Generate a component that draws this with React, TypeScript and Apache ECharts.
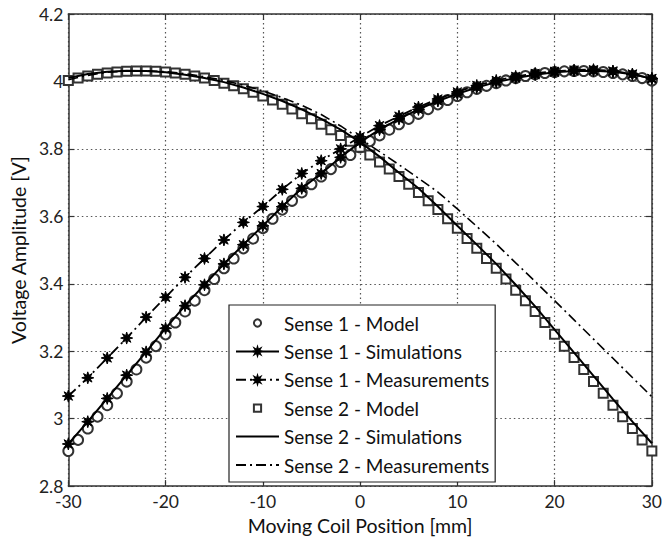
import React, { useEffect, useRef } from "react";
import * as echarts from "echarts";

const xModel = [-30, -29, -28, -27, -26, -25, -24, -23, -22, -21, -20, -19, -18, -17, -16, -15, -14, -13, -12, -11, -10, -9, -8, -7, -6, -5, -4, -3, -2, -1, 0, 1, 2, 3, 4, 5, 6, 7, 8, 9, 10, 11, 12, 13, 14, 15, 16, 17, 18, 19, 20, 21, 22, 23, 24, 25, 26, 27, 28, 29, 30];
const sense1Model = [2.904, 2.937, 2.971, 3.006, 3.040, 3.075, 3.110, 3.146, 3.181, 3.215, 3.250, 3.285, 3.318, 3.350, 3.381, 3.414, 3.446, 3.475, 3.505, 3.534, 3.565, 3.593, 3.620, 3.646, 3.671, 3.695, 3.718, 3.740, 3.761, 3.782, 3.805, 3.823, 3.840, 3.857, 3.873, 3.889, 3.904, 3.918, 3.932, 3.945, 3.957, 3.968, 3.978, 3.987, 3.995, 4.003, 4.010, 4.016, 4.021, 4.025, 4.028, 4.030, 4.031, 4.031, 4.030, 4.028, 4.025, 4.021, 4.016, 4.010, 4.003];
const sense2Model = [4.003, 4.010, 4.016, 4.021, 4.025, 4.028, 4.030, 4.031, 4.031, 4.030, 4.028, 4.025, 4.021, 4.016, 4.010, 4.003, 3.995, 3.987, 3.978, 3.968, 3.957, 3.945, 3.932, 3.918, 3.904, 3.889, 3.873, 3.857, 3.840, 3.823, 3.805, 3.782, 3.761, 3.740, 3.718, 3.695, 3.671, 3.646, 3.620, 3.593, 3.565, 3.534, 3.505, 3.475, 3.446, 3.414, 3.381, 3.350, 3.318, 3.285, 3.250, 3.215, 3.181, 3.146, 3.110, 3.075, 3.040, 3.006, 2.971, 2.937, 2.904];

const xSim = [-30, -28, -26, -24, -22, -20, -18, -16, -14, -12, -10, -8, -6, -4, -2, 0, 2, 4, 6, 8, 10, 12, 14, 16, 18, 20, 22, 24, 26, 28, 30];
const sense1Sim = [2.925, 2.991, 3.060, 3.129, 3.198, 3.268, 3.335, 3.397, 3.459, 3.516, 3.572, 3.629, 3.683, 3.727, 3.775, 3.820, 3.857, 3.889, 3.917, 3.942, 3.963, 3.982, 3.998, 4.010, 4.020, 4.027, 4.031, 4.032, 4.029, 4.021, 4.009];
const sense1Meas = [3.067, 3.121, 3.180, 3.239, 3.301, 3.360, 3.419, 3.475, 3.530, 3.582, 3.629, 3.680, 3.727, 3.765, 3.800, 3.836, 3.869, 3.897, 3.924, 3.948, 3.969, 3.988, 4.003, 4.015, 4.024, 4.030, 4.034, 4.035, 4.031, 4.022, 4.008];
const sense2Sim = [4.010, 4.022, 4.029, 4.032, 4.031, 4.027, 4.020, 4.010, 3.998, 3.982, 3.963, 3.942, 3.917, 3.889, 3.857, 3.820, 3.777, 3.729, 3.683, 3.629, 3.572, 3.516, 3.459, 3.397, 3.333, 3.264, 3.196, 3.127, 3.058, 2.991, 2.927];
const sense2Meas = [4.005, 4.018, 4.027, 4.031, 4.032, 4.029, 4.023, 4.014, 4.003, 3.989, 3.972, 3.952, 3.929, 3.902, 3.868, 3.830, 3.792, 3.753, 3.713, 3.672, 3.622, 3.570, 3.518, 3.462, 3.407, 3.350, 3.293, 3.236, 3.179, 3.122, 3.065];

const seriesNames = [
  "Sense 1 - Model",
  "Sense 1 - Simulations",
  "Sense 1 - Measurements",
  "Sense 2 - Model",
  "Sense 2 - Simulations",
  "Sense 2 - Measurements",
];

const xTicks = { min: -30, max: 30, interval: 10 };
const yTicks = { min: 2.8, max: 4.2, interval: 0.2 };

const FONT = "Lato";
const STAR =
  "path://M20 10L14.16 11.72L17.07 17.07L11.72 14.16L10 20L8.28 14.16L2.93 17.07L5.84 11.72L0 10L5.84 8.28L2.93 2.93L8.28 5.84L10 0L11.72 5.84L17.07 2.93L14.16 8.28Z";
const DASHDOT = [10, 4, 2, 4];

const pair = (xs: number[], ys: number[]) => xs.map((x, i) => [x, ys[i]]);

export default function App() {
  const ref = useRef<HTMLDivElement>(null);
  useEffect(() => {
    if (!ref.current) return;
    const chart = echarts.init(ref.current, undefined, { renderer: "svg" });
    const axisLine = { show: true, onZero: false, lineStyle: { color: "#333", width: 1.5 } };
    const tick = { show: true, inside: true, length: 6, lineStyle: { color: "#333", width: 1.2 } };
    const split = { show: true, lineStyle: { color: "#555", width: 1.2, type: [1.5, 3] } };
    chart.setOption({
      animation: false,
      backgroundColor: "#fff",
      grid: { left: 62.5, right: 7.5, top: 14, bottom: 52, containLabel: false },
      legend: {
        orient: "vertical",
        left: 229,
        top: 305,
        padding: [8, 6, 7, 6],
        itemWidth: 43,
        itemHeight: 9,
        itemGap: 8.4,
        backgroundColor: "#fff",
        borderColor: "#222",
        borderWidth: 1.2,
        borderRadius: 0,
        textStyle: { fontFamily: FONT, fontSize: 19, lineHeight: 20, color: "#111" },
        data: [
          { name: seriesNames[0] },
          { name: seriesNames[1] },
          { name: seriesNames[2] },
          { name: seriesNames[3] },
          { name: seriesNames[4], itemStyle: { opacity: 0 } },
          { name: seriesNames[5], itemStyle: { opacity: 0 } },
        ],
      },
      xAxis: [
        {
          type: "value",
          position: "bottom",
          ...xTicks,
          axisLine,
          axisTick: tick,
          splitLine: split,
          axisLabel: { fontFamily: FONT, fontSize: 17.5, color: "#222", margin: 6 },
          name: "Moving Coil Position [mm]",
          nameLocation: "middle",
          nameGap: 25,
          nameTextStyle: { fontFamily: FONT, fontSize: 19.5, color: "#111" },
        },
        {
          type: "value",
          position: "top",
          ...xTicks,
          axisLine,
          axisTick: tick,
          splitLine: { show: false },
          axisLabel: { show: false },
        },
      ],
      yAxis: [
        {
          type: "value",
          position: "left",
          ...yTicks,
          axisLine,
          axisTick: tick,
          splitLine: split,
          axisLabel: {
            fontFamily: FONT,
            fontSize: 17.5,
            color: "#222",
            margin: 5,
            formatter: (v: number) => String(Number(v.toFixed(1))),
          },
          name: "Voltage Amplitude [V]",
          nameLocation: "middle",
          nameGap: 35,
          nameTextStyle: { fontFamily: FONT, fontSize: 19.5, color: "#111" },
        },
        {
          type: "value",
          position: "right",
          ...yTicks,
          axisLine,
          axisTick: tick,
          splitLine: { show: false },
          axisLabel: { show: false },
        },
      ],
      series: [
        {
          name: seriesNames[0],
          type: "line",
          data: pair(xModel, sense1Model),
          symbol: "emptyCircle",
          symbolSize: 10,
          lineStyle: { width: 0, opacity: 0 },
          itemStyle: { color: "#333", borderWidth: 1.2 },
          z: 2,
        },
        {
          name: seriesNames[1],
          type: "line",
          data: pair(xSim, sense1Sim),
          symbol: STAR,
          symbolSize: 12,
          lineStyle: { color: "#000", width: 2 },
          itemStyle: { color: "#000", borderColor: "#000", borderWidth: 1 },
          z: 3,
        },
        {
          name: seriesNames[2],
          type: "line",
          data: pair(xSim, sense1Meas),
          symbol: STAR,
          symbolSize: 12,
          lineStyle: { color: "#000", width: 1.8, type: DASHDOT },
          itemStyle: { color: "#000", borderColor: "#000", borderWidth: 1 },
          z: 3,
        },
        {
          name: seriesNames[3],
          type: "line",
          data: pair(xModel, sense2Model),
          symbol: "emptyRect",
          symbolSize: 9,
          lineStyle: { width: 0, opacity: 0 },
          itemStyle: { color: "#333", borderWidth: 1.2 },
          z: 2,
        },
        {
          name: seriesNames[4],
          type: "line",
          data: pair(xSim, sense2Sim),
          symbol: "none",
          lineStyle: { color: "#000", width: 2 },
          itemStyle: { color: "#000" },
          z: 3,
        },
        {
          name: seriesNames[5],
          type: "line",
          data: pair(xSim, sense2Meas),
          symbol: "none",
          lineStyle: { color: "#000", width: 1.6, type: DASHDOT },
          itemStyle: { color: "#000" },
          z: 3,
        },
      ],
    });
    return () => chart.dispose();
  }, []);
  return (
    <div
      ref={ref}
      style={{ position: "fixed", left: 0, top: 0, width: 665, height: 540 }}
    />
  );
}
